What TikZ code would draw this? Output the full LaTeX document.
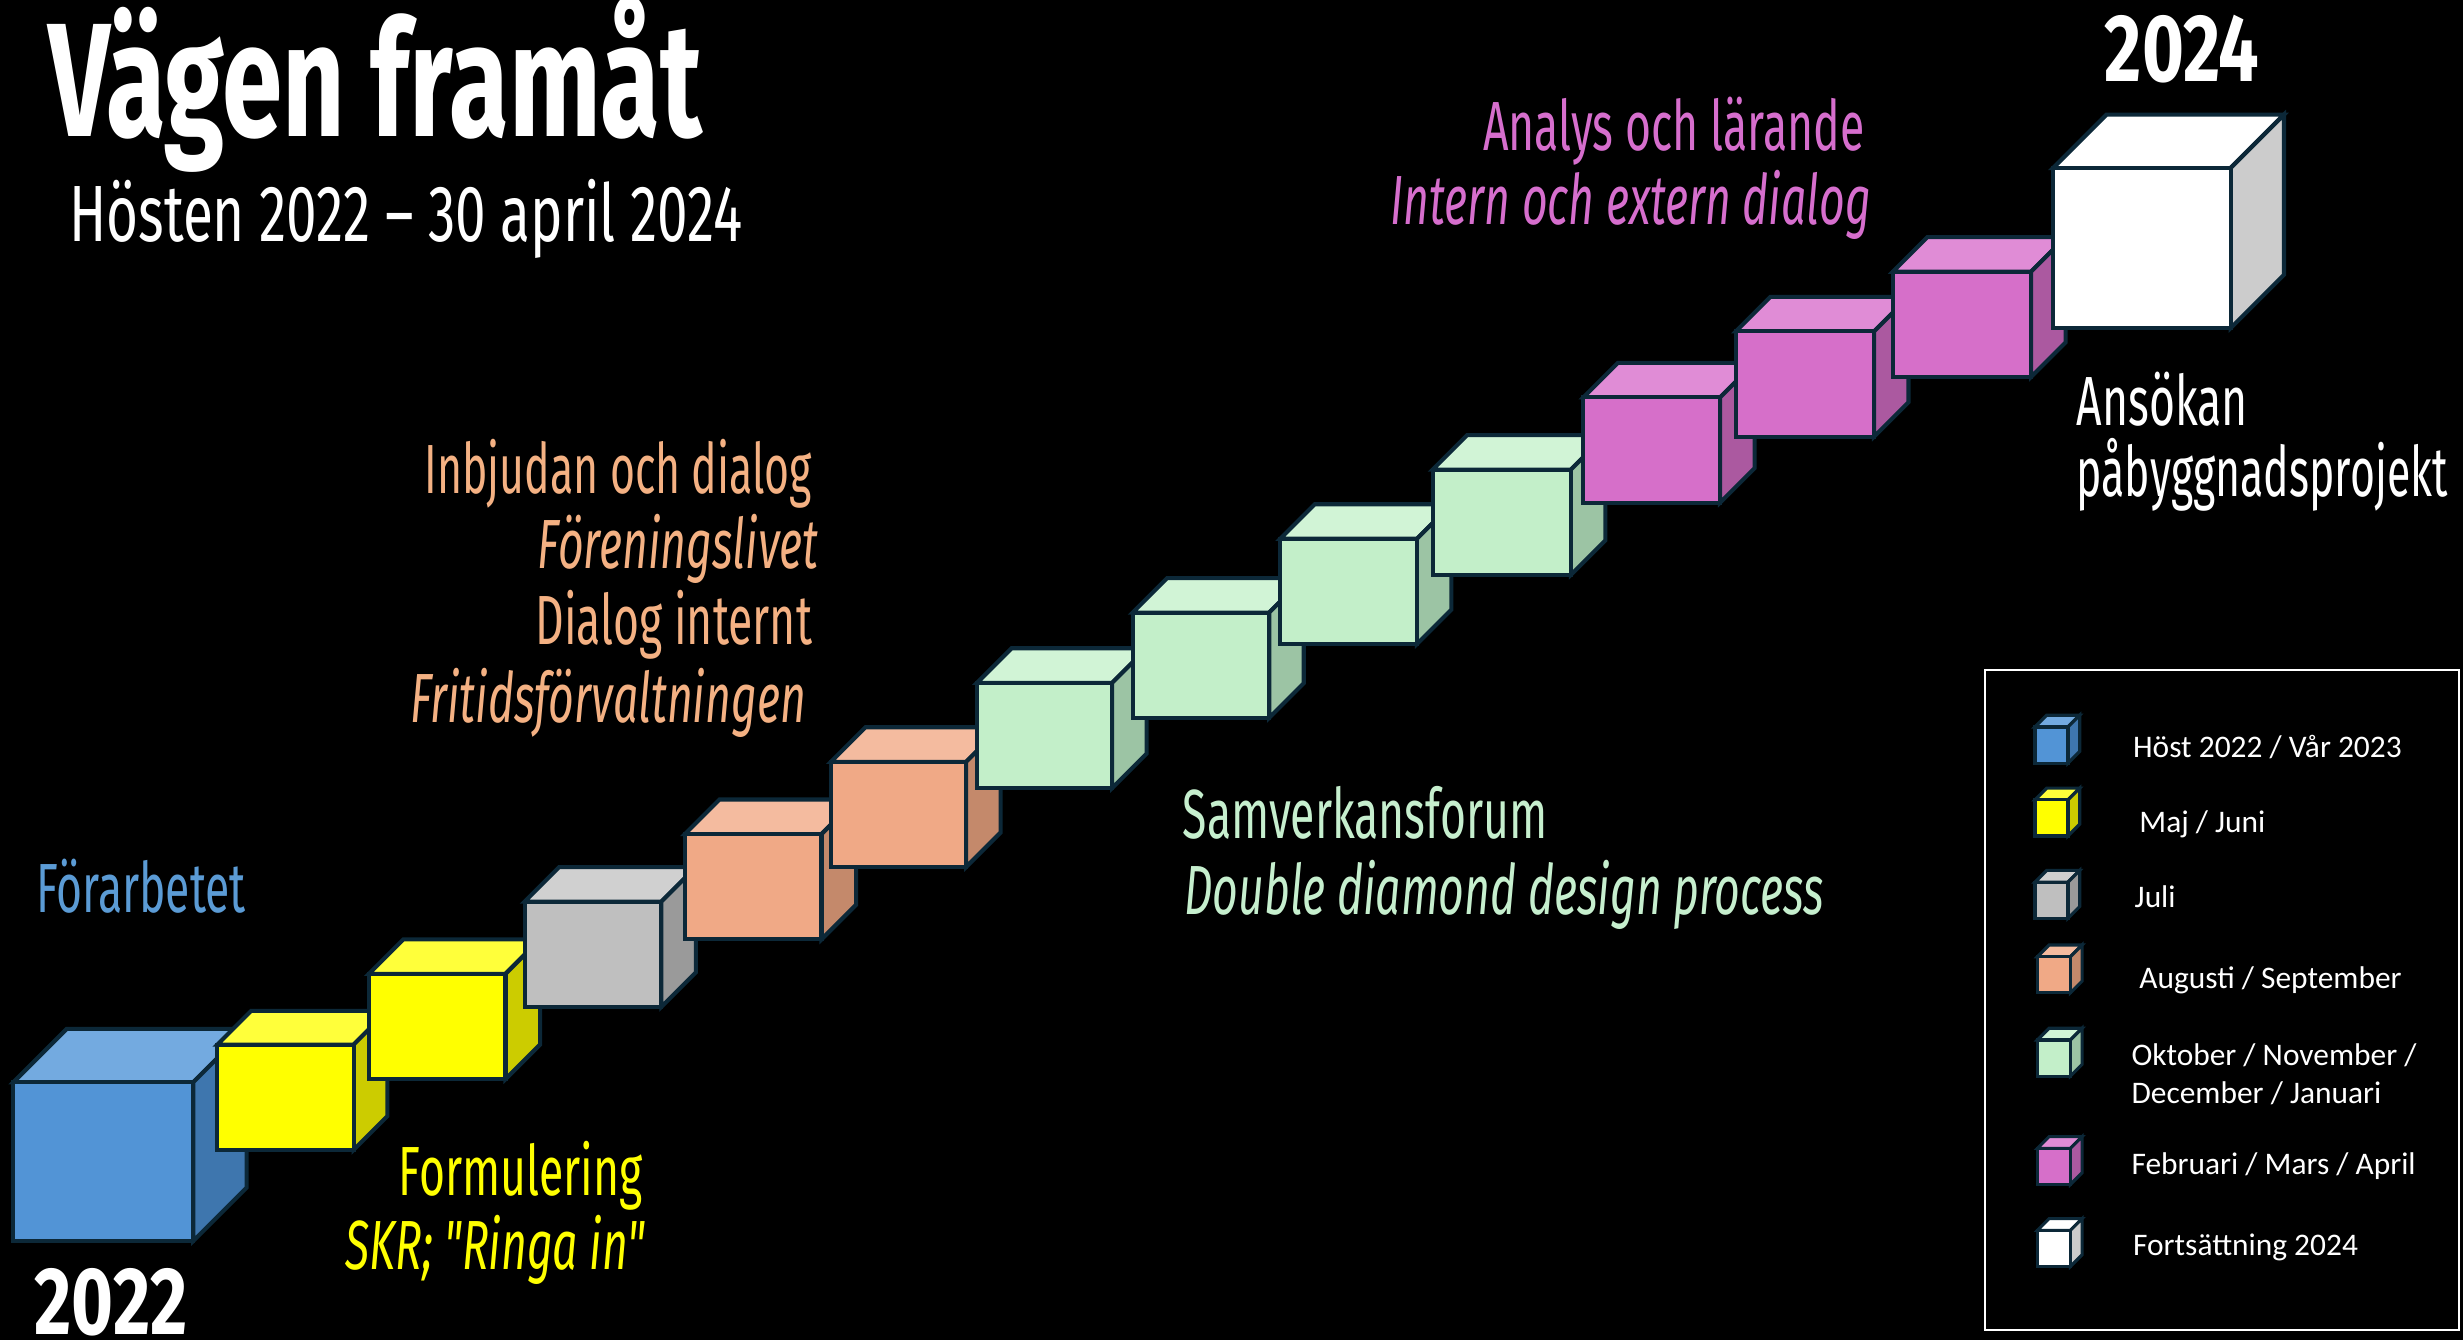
\documentclass[tikz,border=0pt]{standalone}
\usepackage{fontspec}
\newfontfamily\agency{Fira Sans}[FakeStretch=0.64]
\newfontfamily\agencyTitle{Fira Sans}[FakeStretch=0.672]
\newfontfamily\agencySub{Fira Sans}[FakeStretch=0.687]
\newfontfamily\agencyYear{Fira Sans}[FakeStretch=0.75]
\newfontfamily\agencyNarrow{Fira Sans}[FakeStretch=0.615]
\newfontfamily\legfont{Carlito}
\definecolor{edgecol}{RGB}{12,40,56}
\definecolor{bluF}{RGB}{82,148,214}\definecolor{bluT}{RGB}{115,170,224}\definecolor{bluS}{RGB}{62,118,174}
\definecolor{yelF}{RGB}{255,255,0}\definecolor{yelT}{RGB}{255,255,58}\definecolor{yelS}{RGB}{204,204,0}
\definecolor{gryF}{RGB}{191,191,191}\definecolor{gryT}{RGB}{208,208,208}\definecolor{gryS}{RGB}{154,154,154}
\definecolor{orgF}{RGB}{240,169,134}\definecolor{orgT}{RGB}{244,187,159}\definecolor{orgS}{RGB}{196,137,107}
\definecolor{grnF}{RGB}{195,239,201}\definecolor{grnT}{RGB}{209,244,214}\definecolor{grnS}{RGB}{156,196,164}
\definecolor{pnkF}{RGB}{214,111,201}\definecolor{pnkT}{RGB}{224,140,214}\definecolor{pnkS}{RGB}{171,89,160}
\definecolor{whtF}{RGB}{255,255,255}\definecolor{whtT}{RGB}{255,255,255}\definecolor{whtS}{RGB}{204,204,204}
\definecolor{txtBlue}{RGB}{91,155,213}
\definecolor{txtYel}{RGB}{255,255,0}
\definecolor{txtOrg}{RGB}{244,177,131}
\definecolor{txtGrn}{RGB}{198,239,206}
\definecolor{txtPnk}{RGB}{214,110,205}
% #1 style, #2 x, #3 y, #4 w, #5 h, #6 d, #7 colour prefix
\newcommand\drawcube[7]{%
  \filldraw[#1, fill=#7T] (#2,#3) -- ++(#6,-#6) -- ++(#4,0) -- ++(-#6,#6) -- cycle;
  \filldraw[#1, fill=#7S] (#2+#4,#3) -- ++(#6,-#6) -- ++(0,#5) -- ++(-#6,#6) -- cycle;
  \filldraw[#1, fill=#7F] (#2,#3) rectangle ++(#4,#5);
}
\tikzset{
  cubeline/.style={draw=edgecol, line width=2.6pt},
  legline/.style={draw=edgecol, line width=2pt},
  txt/.style={inner sep=0pt, outer sep=0pt},
  body/.style={txt, font=\agency\fontsize{44.3}{50}\selectfont},
  bodyit/.style={txt, font=\agency\itshape\fontsize{44.3}{50}\selectfont},
  yearlbl/.style={txt, text=white, text depth=0pt, font=\agencyYear\bfseries\fontsize{61}{66}\selectfont},
  legtxt/.style={txt, text=white, font=\legfont\fontsize{20}{24}\selectfont, anchor=base west},
}
\begin{document}
\begin{tikzpicture}[x=1pt,y=-1pt]
\useasboundingbox (0,0) rectangle (1568,853);
\fill[black] (0,0) rectangle (1568,853);

% title
\node[txt, anchor=base west, text=white, font=\agencyTitle\bfseries\fontsize{103}{110}\selectfont] (title) at (31,87) {Vägen framåt};
\node[txt, anchor=base west, text=white, font=\agencySub\fontsize{50.8}{56}\selectfont] (subtitle) at (44,154) {Hösten 2022 – 30 april 2024};

% cubes
\drawcube{cubeline}{8.5}{689}{114.5}{101}{34}{blu}
\drawcube{cubeline}{138.4}{665}{86.7}{67}{21.5}{yel}
\drawcube{cubeline}{234.8}{620}{87}{67}{22}{yel}
\drawcube{cubeline}{334}{574}{87}{67}{22}{gry}
\drawcube{cubeline}{436}{531}{87}{67}{22}{org}
\drawcube{cubeline}{529}{485}{86}{67}{22}{org}
\drawcube{cubeline}{622}{434.7}{86}{67}{22}{grn}
\drawcube{cubeline}{721}{390}{87}{67}{22}{grn}
\drawcube{cubeline}{815}{343}{87}{67}{22}{grn}
\drawcube{cubeline}{912}{299}{88}{67}{22}{grn}
\drawcube{cubeline}{1008}{253}{87}{67}{22}{pnk}
\drawcube{cubeline}{1105}{211}{88}{67}{22}{pnk}
\drawcube{cubeline}{1205}{173}{88}{67}{22}{pnk}
\drawcube{cubeline}{1307}{107}{113}{102}{34}{wht}

% years
\node[yearlbl, anchor=base west] (y2024) at (1340,51.6) {2024};
\node[yearlbl, anchor=base west] (y2022) at (22,849.5) {2022};

% phase labels
\node[body, anchor=base west, text=txtBlue] (forarb) at (23,581) {Förarbetet};
\node[body, anchor=base west, text=txtYel] (formul) at (254,761) {Formulering};
\node[bodyit, anchor=base west, text=txtYel] (skr) at (220,808.5) {SKR; "Ringa in"};
\node[txt, font=\agencyNarrow\fontsize{44.3}{50}\selectfont, anchor=base east, text=txtOrg] (inbjudan) at (517,314) {Inbjudan och dialog};
\node[bodyit, anchor=base east, text=txtOrg] (foren) at (521,362) {Föreningslivet};
\node[body, anchor=base east, text=txtOrg] (dialog) at (517,410.6) {Dialog internt};
\node[bodyit, anchor=base east, text=txtOrg] (fritid) at (513,460) {Fritidsförvaltningen};
\node[body, anchor=base west, text=txtGrn] (samverk) at (753,534) {Samverkansforum};
\node[bodyit, anchor=base west, text=txtGrn] (double) at (754,582.5) {Double diamond design process};
\node[body, anchor=base east, text=txtPnk] (analys) at (1187,95.5) {Analys och lärande};
\node[bodyit, anchor=base east, text=txtPnk] (intern) at (1191,143) {Intern och extern dialog};
\node[body, anchor=base west, text=white] (ansokan) at (1322,271) {Ansökan};
\node[txt, font=\agencyNarrow\fontsize{44.3}{50}\selectfont, anchor=base west, text=white] (pabygg) at (1322,316) {påbyggnadsprojekt};

% legend
\node[draw=white, line width=1.3pt, minimum width=302pt, minimum height=420pt, anchor=north west, inner sep=0pt] (legend) at (1263,426) {};
\drawcube{legline}{1295.5}{462.8}{21}{23}{7.5}{blu}
\drawcube{legline}{1295.5}{509.2}{21}{23}{7.5}{yel}
\drawcube{legline}{1295.5}{561.6}{21}{23}{7.5}{gry}
\drawcube{legline}{1297}{609.1}{21}{23}{7.5}{org}
\drawcube{legline}{1297}{662.1}{21}{23}{7.5}{grn}
\drawcube{legline}{1297}{731.1}{21}{23}{7.5}{pnk}
\drawcube{legline}{1297}{783.3}{21}{23}{7.5}{wht}
\node[legtxt] (l1) at (1358,482) {Höst 2022 / Vår 2023};
\node[legtxt] (l2) at (1362,530) {Maj / Juni};
\node[legtxt] (l3) at (1359,578) {Juli};
\node[legtxt] (l4) at (1362,629.5) {Augusti / September};
\node[legtxt] (l5a) at (1357,678) {Oktober / November /};
\node[legtxt] (l5b) at (1357,702.7) {December / Januari};
\node[legtxt] (l6) at (1357,748) {Februari / Mars / April};
\node[legtxt] (l7) at (1358,799) {Fortsättning 2024};
\end{tikzpicture}
\end{document}
